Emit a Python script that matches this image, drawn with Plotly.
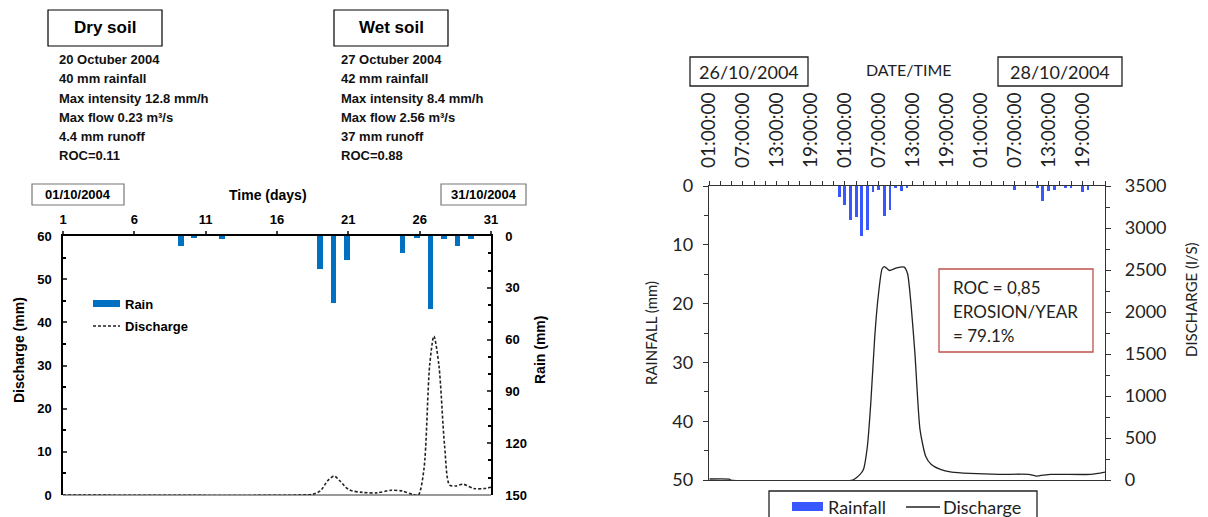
import plotly.graph_objects as go

# The page body has an 8 px margin, so the figure is drawn 8 px in from the corner.
OFF = 8
W, H = 1200, 509

# ---------------- data: left chart (October 2004, daily) ----------------
rain_days = [9.25, 10.2, 12.15, 19.0, 19.95, 20.9, 24.8, 25.8, 26.75, 27.7, 28.65, 29.6]
rain_mm = [6, 1, 2, 19, 39, 14, 10, 0.7, 42, 2, 6, 2]

discharge_days = [1, 17.8, 18.55, 19.05, 19.55, 20, 20.4, 21.05, 22, 23, 24, 24.8,
                  25.5, 25.9, 26.3, 26.7, 27, 27.35, 27.75, 28.1, 28.55, 29.05,
                  29.8, 30.55, 31]
discharge_mm = [0, 0, 0.2, 1, 3.3, 4.4, 3.3, 1.2, 0.6, 0.5, 1.1, 0.9,
                0.15, 0, 6, 30, 36.8, 30, 11.3, 2.3, 2.1, 2.5,
                1.5, 1.5, 1.8]

day_ticks = [1, 6, 11, 16, 21, 26, 31]

# ---------------- data: right chart (26-28/10/2004, hourly) ----------------
rain_hours = [24, 25, 26, 27, 28, 29, 30, 31, 32, 33, 34, 35, 36,
              55, 59, 60, 61, 62, 64, 65, 67, 68]
rainfall_mm = [1.8, 3.3, 5.7, 5.3, 8.5, 7.4, 1.1, 0.7, 5.1, 4.0, 0.4, 0.85, 0.3,
               0.6, 0.4, 2.5, 0.8, 0.6, 0.2, 0.3, 1.0, 0.6]

q_hours = [1.1, 4.6, 4.8, 26.4, 27.7, 28.3, 29.0, 29.6, 30.3, 30.9, 31.6, 32.0,
           32.9, 34.2, 35.5, 36.1, 36.7, 37.4, 38.3, 39.3, 40.3, 41.9, 43.9,
           47.1, 52.3, 57.5, 58.8, 61.4, 68.5, 71.0]
q_ls = [12, 10, 0, 0, 67, 126, 402, 916, 1705, 2178, 2514, 2541,
        2494, 2526, 2534, 2455, 2099, 1508, 600, 284, 185, 126, 95,
        79, 67, 67, 47, 67, 67, 95]

hour_ticks = [1, 7, 13, 19, 25, 31, 37, 43, 49, 55, 61, 67]
hour_labels = ["01:00:00", "07:00:00", "13:00:00", "19:00:00"] * 3

dry_lines = ["20 Octuber 2004", "40 mm rainfall", "Max intensity 12.8 mm/h",
             "Max flow 0.23 m³/s", "4.4 mm runoff", "ROC=0.11"]
wet_lines = ["27 Octuber 2004", "42 mm rainfall", "Max intensity 8.4 mm/h",
             "Max flow 2.56 m³/s", "37 mm runoff", "ROC=0.88"]
roc_lines = ["ROC = 0,85", "EROSION/YEAR", "= 79.1%"]


def X(px):
    return (px - OFF) / W


def Y(py):
    return 1 - (py - OFF) / H


ARIAL = "Liberation Sans"
GEO = "Lato"
BLUE_L = "#0070C0"
BLUE_R = "#3857FF"
INK = "#222222"

fig = go.Figure()

# left chart traces
fig.add_trace(go.Bar(x=rain_days, y=rain_mm, xaxis="x", yaxis="y2",
                     marker=dict(color=BLUE_L, line=dict(width=0)),
                     width=0.4, name="Rain", showlegend=False))
fig.add_trace(go.Scatter(x=discharge_days, y=discharge_mm, xaxis="x", yaxis="y",
                         mode="lines", line=dict(color=INK, width=1.6, dash="3px,2px",
                                                 shape="spline", smoothing=0.8),
                         name="Discharge", showlegend=False))

# right chart traces
fig.add_trace(go.Bar(x=rain_hours, y=rainfall_mm, xaxis="x2", yaxis="y3",
                     marker=dict(color=BLUE_R, line=dict(width=0)),
                     width=0.5, name="Rainfall", showlegend=False))
fig.add_trace(go.Scatter(x=q_hours, y=q_ls, xaxis="x2", yaxis="y4",
                         mode="lines", line=dict(color=INK, width=1.3,
                                                 shape="spline", smoothing=0.6),
                         name="Discharge", showlegend=False))

lx0, lx1, ly0, ly1 = 63, 491, 236, 495
rx0, rx1, ry0, ry1 = 709, 1105, 186, 480

bold13 = dict(family=ARIAL, size=13, color="black", weight="bold")
geo18 = dict(family=GEO, size=18, color=INK)

fig.update_layout(
    width=W, height=H, template="none",
    margin=dict(l=0, r=0, t=0, b=0, autoexpand=False),
    paper_bgcolor="white", plot_bgcolor="rgba(0,0,0,0)",
    showlegend=False, bargap=0,
    xaxis=dict(domain=[X(lx0), X(lx1)], anchor="y", side="top", range=[1, 31],
               tickvals=day_ticks, ticks="outside", ticklen=3, tickwidth=1.5,
               showline=True, linecolor="black", linewidth=1.5, showgrid=False,
               zeroline=False, tickfont=bold13, automargin=False, ticklabelstandoff=2),
    yaxis=dict(domain=[Y(ly1), Y(ly0)], anchor="x", range=[0, 60], dtick=10,
               ticks="inside", ticklen=4, tickwidth=1.5, showline=True,
               linecolor="black", linewidth=1.5, showgrid=False,
               zeroline=True, zerolinecolor="#9a9a9a", zerolinewidth=2,
               minor=dict(dtick=5, ticks="inside", ticklen=3, tickcolor="black"),
               tickfont=bold13, automargin=False, ticklabelstandoff=7),
    yaxis2=dict(overlaying="y", anchor="x", side="right", range=[150, 0], dtick=30,
                ticks="inside", ticklen=4, tickwidth=1.5, showline=True,
                linecolor="black", linewidth=1.5, showgrid=False, zeroline=False,
                minor=dict(dtick=10, ticks="inside", ticklen=3, tickcolor="black"),
                tickfont=bold13, automargin=False, ticklabelstandoff=10),
    xaxis2=dict(domain=[X(rx0), X(rx1)], anchor="y3", side="top", range=[1, 71],
                tickvals=hour_ticks, ticktext=hour_labels, tickangle=-90,
                ticks="outside", ticklen=4, tickcolor="#333", showline=True,
                linecolor="#333", linewidth=1.3, mirror=True, showgrid=False,
                zeroline=False, minor=dict(tick0=1, dtick=2, ticks="outside",
                                           ticklen=4, tickcolor="#333"),
                tickfont=dict(family=GEO, size=19, color=INK),
                automargin=False, ticklabelstandoff=9),
    yaxis3=dict(domain=[Y(ry1), Y(ry0)], anchor="x2", range=[50, 0], dtick=10,
                ticks="outside", ticklen=5, tickcolor="#333", showline=True,
                linecolor="#333", linewidth=1.3, showgrid=False, zeroline=False,
                minor=dict(dtick=5, ticks="outside", ticklen=4, tickcolor="#333"),
                tickfont=geo18, automargin=False, ticklabelstandoff=6),
    yaxis4=dict(overlaying="y3", anchor="x2", side="right", range=[0, 3500], dtick=500,
                ticks="outside", ticklen=5, tickcolor="#333", showline=True,
                linecolor="#333", linewidth=1.3, showgrid=False, zeroline=False,
                minor=dict(dtick=250, ticks="outside", ticklen=4, tickcolor="#333"),
                tickfont=geo18, automargin=False, ticklabelstandoff=10),
)

shapes = []
ann = []


def box(x0, y0, x1, y1, color="black", width=1.2):
    shapes.append(dict(type="rect", xref="paper", yref="paper", x0=X(x0), x1=X(x1),
                       y0=Y(y1), y1=Y(y0), line=dict(color=color, width=width),
                       fillcolor="rgba(0,0,0,0)"))


def text(s, x, y, font, xanchor="left", angle=0):
    ann.append(dict(text=s, x=X(x), y=Y(y), xref="paper", yref="paper",
                    xanchor=xanchor, yanchor="middle", showarrow=False,
                    font=font, textangle=angle))


# header boxes
hdr = dict(family=ARIAL, size=17, weight="bold", color="black")
box(48, 10, 162, 46)
text("Dry soil", 105, 28, hdr, "center")
box(334, 10, 448, 46)
text("Wet soil", 391, 28, hdr, "center")

small = dict(family=ARIAL, size=13, weight="bold", color="#111")
ys = [60, 79, 98, 117, 136, 155]
for s, yy in zip(dry_lines, ys):
    text(s, 57, yy, small)
for s, yy in zip(wet_lines, ys):
    text(s, 339, yy, small)

# left chart date boxes and title
box(32, 184, 124, 205, color="#777")
text("01/10/2004", 78, 195, bold13, "center")
box(441, 184, 526, 205, color="#777")
text("31/10/2004", 483.5, 195, bold13, "center")
text("Time (days)", 268, 195, dict(family=ARIAL, size=14, weight="bold", color="black"),
     "center")
text("Discharge (mm)", 19, 350, dict(family=ARIAL, size=14, weight="bold", color="black"),
     "center", -90)
text("Rain (mm)", 540, 350, dict(family=ARIAL, size=14, weight="bold", color="black"),
     "center", -90)

# left legend
shapes.append(dict(type="rect", xref="paper", yref="paper", x0=X(93), x1=X(120),
                   y0=Y(307), y1=Y(300), fillcolor=BLUE_L, line=dict(width=0)))
text("Rain", 123, 304, bold13)
shapes.append(dict(type="line", xref="paper", yref="paper", x0=X(93), x1=X(120),
                   y0=Y(326), y1=Y(326), line=dict(color=INK, width=1.6, dash="3px,2px")))
text("Discharge", 123, 326, bold13)

# right chart headers
box(690, 57, 808, 86, color=INK, width=1.3)
text("26/10/2004", 749, 71.5, dict(family=GEO, size=18, color=INK), "center")
box(998, 57, 1122, 86, color=INK, width=1.3)
text("28/10/2004", 1060, 71.5, dict(family=GEO, size=18, color=INK), "center")
text("DATE/TIME", 909, 70, dict(family=GEO, size=16, color=INK), "center")
text("RAINFALL (mm)", 651, 333, dict(family=GEO, size=15, color=INK), "center", -90)
text("DISCHARGE (l/S)", 1191, 300, dict(family=GEO, size=15, color=INK), "center", -90)

# ROC box
box(939, 269, 1093, 352, color="#C0504D", width=1.3)
for s, yy in zip(roc_lines, [287, 311, 335]):
    text(s, 951, yy, dict(family=GEO, size=17, color=INK))

# right legend
box(769, 491, 1037, 530, color=INK, width=1.3)
shapes.append(dict(type="rect", xref="paper", yref="paper", x0=X(792), x1=X(823),
                   y0=Y(511), y1=Y(502), fillcolor=BLUE_R, line=dict(width=0)))
text("Rainfall", 826, 507, dict(family=GEO, size=18, color=INK))
shapes.append(dict(type="line", xref="paper", yref="paper", x0=X(906), x1=X(940),
                   y0=Y(507), y1=Y(507), line=dict(color=INK, width=1.3)))
text("Discharge", 941, 507, dict(family=GEO, size=18, color=INK))

fig.update_layout(shapes=shapes, annotations=ann)
fig.write_html("out.html")
